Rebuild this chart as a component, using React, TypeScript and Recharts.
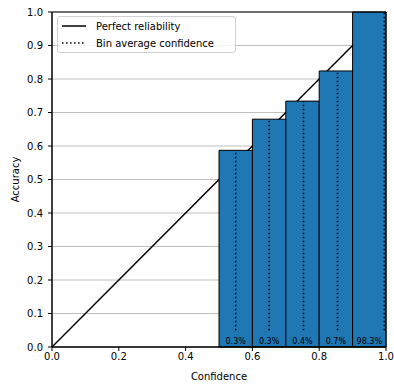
import { ComposedChart, Line, XAxis, YAxis, CartesianGrid, ReferenceArea, ReferenceLine } from 'recharts';

// reliability diagram, 10 bins, only the top 5 have samples
const binStarts = [0.5, 0.6, 0.7, 0.8, 0.9];
const binEnds = [0.6, 0.7, 0.8, 0.9, 1.0];
const accuracy = [0.587, 0.68, 0.734, 0.824, 1.0];
const avgConfidence = [0.55, 0.65, 0.753, 0.855, 0.995];
const binShare = ['0.3%', '0.3%', '0.4%', '0.7%', '98.3%'];
const dottedFloor = 0.05;

const xTicks = [0, 0.2, 0.4, 0.6, 0.8, 1.0];
const yTicks = [0, 0.1, 0.2, 0.3, 0.4, 0.5, 0.6, 0.7, 0.8, 0.9, 1.0];

const diagonal = [
  { x: 0, y: 0 },
  { x: 1, y: 1 },
];

const font = 'DejaVu Sans, sans-serif';

function LegendBox() {
  return (
    <div
      style={{
        position: 'absolute',
        left: 57,
        top: 16,
        width: 179,
        height: 37,
        boxSizing: 'border-box',
        border: '1px solid #d0d0d0',
        borderRadius: 3,
        background: 'rgba(255,255,255,0.8)',
        fontFamily: font,
        fontSize: 10,
        color: '#000',
      }}
    >
      {[
        { label: 'Perfect reliability', dash: undefined },
        { label: 'Bin average confidence', dash: '1.5 2.5' },
      ].map((item, i) => (
        <div key={i} style={{ position: 'absolute', left: 4, top: 2 + i * 17, height: 14, display: 'flex', alignItems: 'center' }}>
          <svg width={24} height={6} style={{ marginRight: 10 }}>
            <line x1={0} x2={24} y1={3} y2={3} stroke="#000" strokeWidth={1.5} strokeDasharray={item.dash} />
          </svg>
          <span>{item.label}</span>
        </div>
      ))}
    </div>
  );
}

export default function App() {
  return (
    <div style={{ position: 'absolute', left: 0, top: 0, width: 394, height: 385 }}>
      <ComposedChart
        width={394}
        height={385}
        data={diagonal}
        margin={{ top: 12, right: 8, left: 0, bottom: 0 }}
      >
        <CartesianGrid vertical={false} stroke="#b0b0b0" strokeWidth={0.8} />
        <XAxis
          type="number"
          dataKey="x"
          domain={[0, 1]}
          ticks={xTicks}
          tickFormatter={(v: number) => v.toFixed(1)}
          stroke="#000"
          tick={{ fill: '#000', fontSize: 10, fontFamily: font }}
          tickSize={4}
          tickMargin={2}
          height={38}
          label={{ value: 'Confidence', position: 'insideBottom', offset: 5, fill: '#000', fontSize: 10, fontFamily: font }}
        />
        <YAxis
          type="number"
          domain={[0, 1]}
          ticks={yTicks}
          tickFormatter={(v: number) => v.toFixed(1)}
          stroke="#000"
          tick={{ fill: '#000', fontSize: 10, fontFamily: font }}
          tickSize={4}
          tickMargin={5}
          width={52}
          label={{ value: 'Accuracy', angle: -90, position: 'insideLeft', offset: 15, fill: '#000', fontSize: 10, fontFamily: font, style: { textAnchor: 'middle' } }}
        />
        <Line
          type="linear"
          dataKey="y"
          stroke="#000"
          strokeWidth={1.5}
          dot={false}
          activeDot={false}
          isAnimationActive={false}
          zIndex={50}
        />
        {binStarts.map((s, i) => (
          <ReferenceArea
            key={'bar' + i}
            x1={s}
            x2={binEnds[i]}
            y1={0}
            y2={accuracy[i]}
            fill="#1f77b4"
            fillOpacity={1}
            stroke="#000"
            strokeWidth={1}
            zIndex={300}
            label={{ value: binShare[i], position: 'insideBottom', offset: 3, fill: '#000', fontSize: 8, fontFamily: font }}
          />
        ))}
        {avgConfidence.map((c, i) => (
          <ReferenceLine
            key={'conf' + i}
            segment={[
              { x: c, y: dottedFloor },
              { x: c, y: accuracy[i] },
            ]}
            stroke="#000"
            strokeWidth={1.5}
            strokeDasharray="1.5 2.5"
            zIndex={350}
          />
        ))}
        <ReferenceArea x1={0} x2={1} y1={0} y2={1} fill="none" stroke="#000" strokeWidth={1} zIndex={400} />
      </ComposedChart>
      <LegendBox />
    </div>
  );
}
